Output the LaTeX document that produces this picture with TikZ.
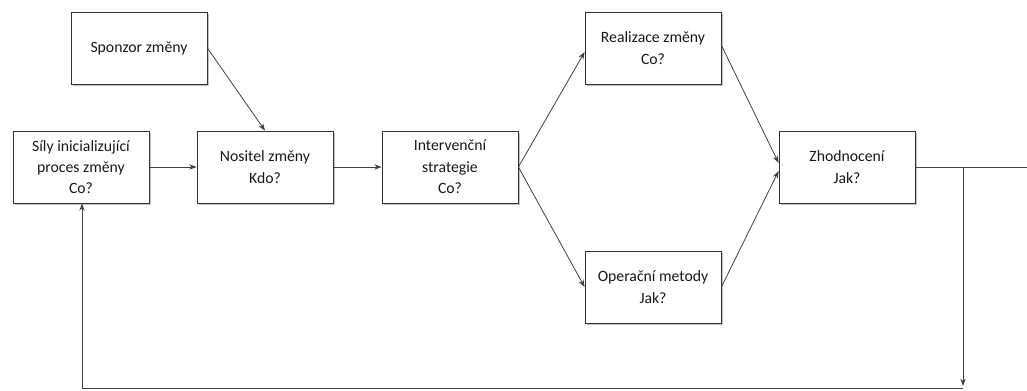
\documentclass[tikz,border=0pt]{standalone}
\usepackage{fontspec}
\setmainfont{Carlito}
\usetikzlibrary{arrows.meta,shadows,calc}
\begin{document}
\begin{tikzpicture}[x=0.75pt,y=-0.75pt,
  box/.style={draw=black!80, line width=0.6pt, fill=white,
    minimum width=102pt, minimum height=54pt, align=center,
    font=\fontsize{11.8}{16}\selectfont, text=black!90,
    drop shadow={shadow xshift=1.3pt, shadow yshift=-1.3pt, opacity=0.4, fill=black!60}},
  link/.style={draw=black!75, line width=0.6pt},
  arr/.style={link, -{Stealth[length=5.5pt,width=4pt]}}]
\useasboundingbox (0,0) rectangle (1027,390);

% boxes
\node[box] (spons) at (139,48)  {Sponzor změny};
\node[box] (sily)  at (81,167)  {Síly inicializující\\proces změny\\Co?};
\node[box] (nos)   at (265,167) {Nositel změny\\Kdo?};
\node[box] (int)   at (450,167) {Intervenční\\strategie\\Co?};
\node[box] (real)  at (653,48)  {Realizace změny\\Co?};
\node[box] (oper)  at (653,287) {Operační metody\\Jak?};
\node[box] (zhod)  at (847,167) {Zhodnocení\\Jak?};

% feedback loop points
\coordinate (out)  at (1027,167);
\coordinate (tap)  at (963,167);
\coordinate (drop) at (963,386);
\coordinate (back) at (82,388);

% main flow
\draw[arr] (sily.east) -- (nos.west);
\draw[arr] (spons.east) -- (nos.north);
\draw[arr] (nos.east) -- (int.west);
\draw[arr] (int.east) -- ([yshift=-3pt]real.west);
\draw[arr] (int.east) -- (oper.west);
\draw[arr] ([yshift=2pt]real.east) -- ([yshift=3pt]zhod.west);
\draw[arr] (oper.east) -- ([yshift=-3pt]zhod.west);

% feedback
\draw[link] (zhod.east) -- (out);
\draw[arr] (tap) -- (drop);
\draw[arr] (drop |- back) -- (back) -- (back |- sily.south);
\end{tikzpicture}
\end{document}
